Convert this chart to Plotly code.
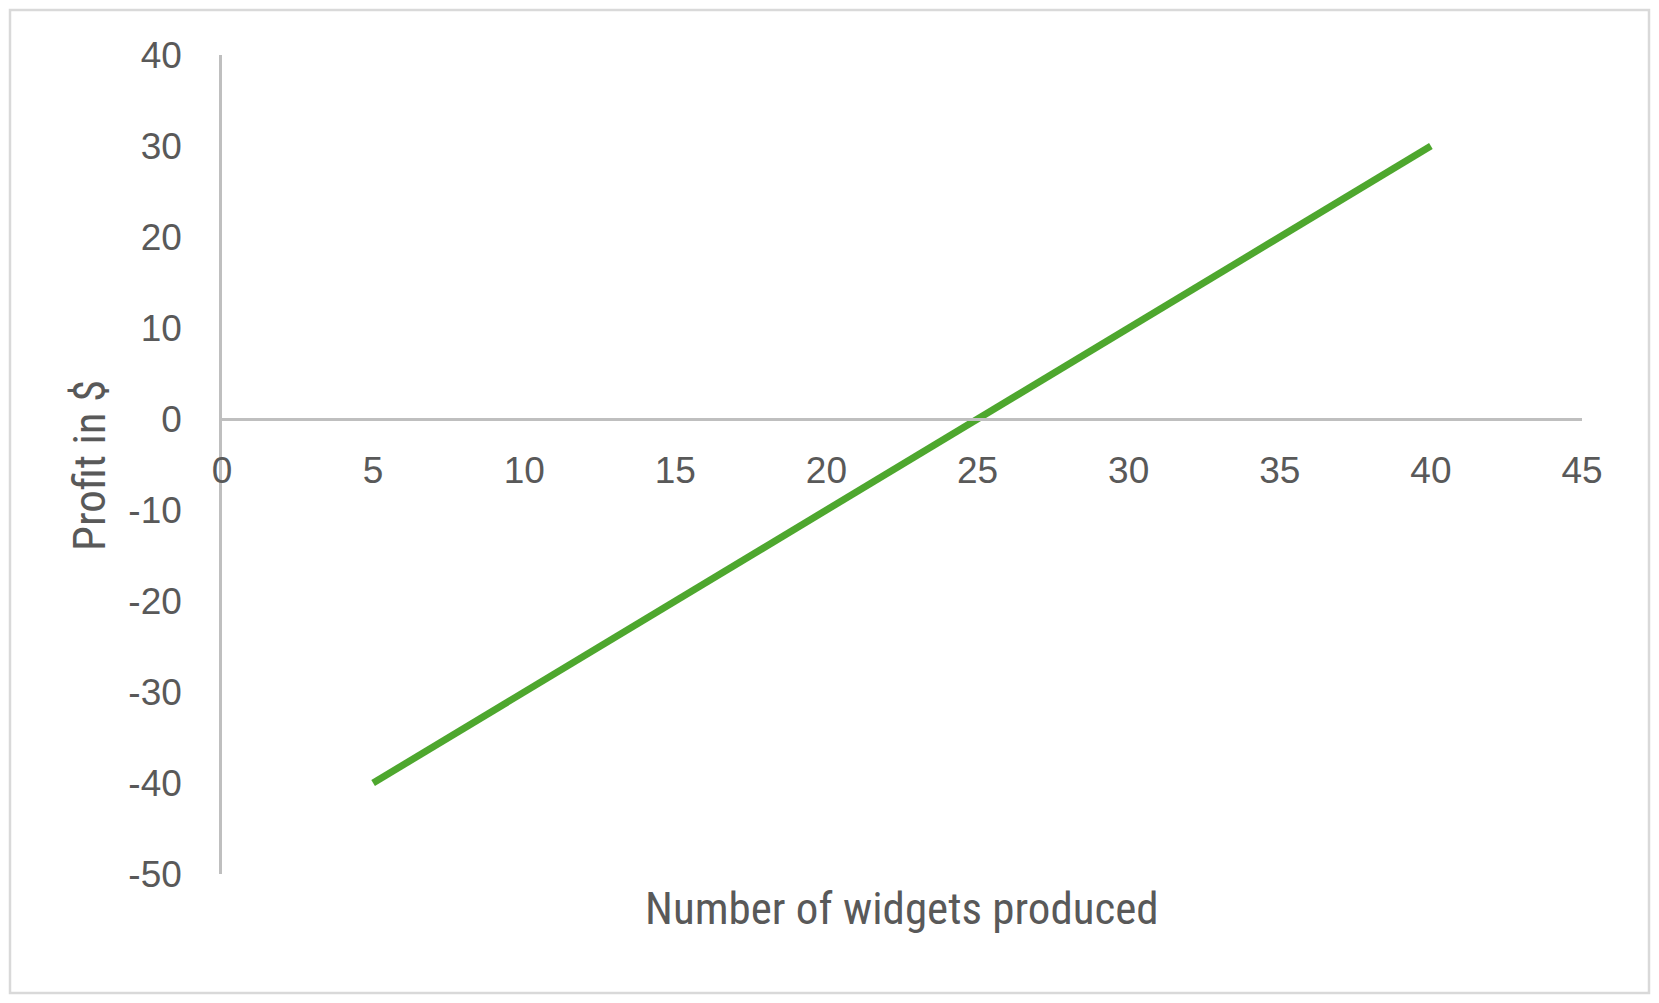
import plotly.graph_objects as go

# values
widgets = [5, 10, 15, 20, 25, 30, 35, 40]
profit = [-40, -30, -20, -10, 0, 10, 20, 30]

x_ticks = [0, 5, 10, 15, 20, 25, 30, 35, 40, 45]
y_ticks = [40, 30, 20, 10, 0, -10, -20, -30, -40, -50]

# page body has an 8px margin, so the figure is drawn 8px in from the window edge
OFF = 8
W, H = 1659 - 2 * OFF, 1003 - 2 * OFF
L, R, T, B = 222 - OFF, 1659 - OFF - 1582, 55 - OFF, 1003 - OFF - 874
pw, ph = W - L - R, H - T - B

grey = "#595959"
axis_grey = "#BFBFBF"
narrow = "Liberation Sans Narrow, Arial Narrow, Roboto Condensed, sans-serif"


# screen pixel -> paper fraction
def px_x(p):
    return (p - OFF - L) / pw


def px_y(p):
    return (H - B - (p - OFF)) / ph


fig = go.Figure()
fig.add_trace(go.Scatter(
    x=widgets, y=profit, mode="lines",
    line=dict(color="#4EA72E", width=7),
    showlegend=False, hoverinfo="skip",
))

zero_pos = (0 - (-50)) / 90.0

fig.update_layout(
    width=W, height=H,
    margin=dict(l=L, r=R, t=T, b=B),
    paper_bgcolor="white", plot_bgcolor="white",
    font=dict(family="Liberation Sans, Arial, sans-serif", color=grey, size=37),
    xaxis=dict(
        range=[0, 45], tickvals=x_ticks, ticktext=[str(v) for v in x_ticks],
        showgrid=False, zeroline=False,
        showline=True, linecolor=axis_grey, linewidth=2.5,
        anchor="free", position=zero_pos,
        ticks="", ticklabelstandoff=18,
        tickfont=dict(size=37, color=grey),
    ),
    yaxis=dict(
        range=[-50, 40], tickvals=y_ticks, ticktext=[str(v) for v in y_ticks],
        showgrid=False, zeroline=False,
        showline=True, linecolor=axis_grey, linewidth=2.5,
        ticks="", ticklabelstandoff=30,
        tickfont=dict(size=37, color=grey),
    ),
    shapes=[dict(
        type="rect", xref="paper", yref="paper", layer="below",
        x0=px_x(OFF + 2), x1=px_x(1659 - OFF - 2),
        y0=px_y(1003 - OFF - 2), y1=px_y(OFF + 2),
        line=dict(color="#D9D9D9", width=2.5), fillcolor="rgba(0,0,0,0)",
    )],
    annotations=[
        dict(text="Number of widgets produced", xref="paper", yref="paper",
             x=px_x(902), y=px_y(908), xanchor="center", yanchor="middle",
             showarrow=False, font=dict(family=narrow, size=45, color=grey)),
        dict(text="Profit in $", xref="paper", yref="paper", textangle=-90,
             x=px_x(89), y=px_y(466), xanchor="center", yanchor="middle",
             showarrow=False, font=dict(family=narrow, size=45, color=grey)),
    ],
)

fig.write_html("out.html")
